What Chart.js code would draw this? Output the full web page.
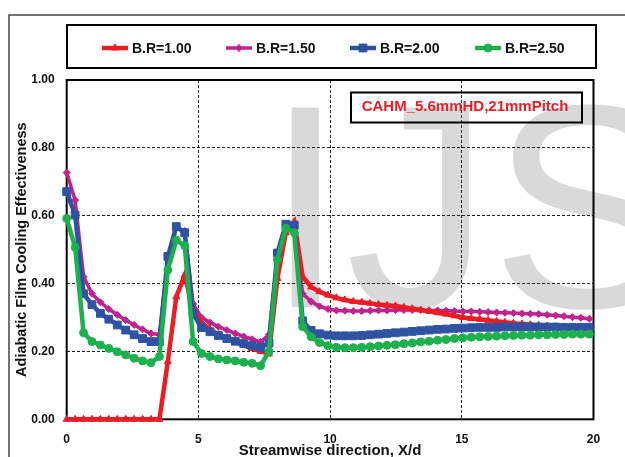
<!DOCTYPE html>
<html>
<head>
<meta charset="utf-8">
<script src="https://cdn.jsdelivr.net/npm/chart.js@4.4.1/dist/chart.umd.min.js"></script>
<style>
  html, body { margin: 0; padding: 0; background: #fff; }
  #wrap { width: 625px; height: 457px; position: relative; }
</style>
</head>
<body>
<div id="wrap"><canvas id="chart" width="625" height="457"></canvas></div>
<script>
// X/d positions of the measurement points
const xPos = [0, 0.32, 0.64, 0.96, 1.28, 1.6, 1.92, 2.24, 2.56, 2.88, 3.2, 3.52, 3.84, 4.16, 4.48, 4.8,
  5.12, 5.44, 5.76, 6.08, 6.4, 6.72, 7.04, 7.36, 7.68, 8.0, 8.32, 8.64, 8.96, 9.28, 9.6, 9.92,
  10.24, 10.56, 10.88, 11.2, 11.52, 11.84, 12.16, 12.48, 12.8, 13.12, 13.44, 13.76, 14.08, 14.4, 14.72,
  15.04, 15.36, 15.68, 16.0, 16.32, 16.64, 16.96, 17.28, 17.6, 17.92, 18.24, 18.56, 18.88, 19.2, 19.52, 19.84];

const seriesNames = ['B.R=1.00', 'B.R=1.50', 'B.R=2.00', 'B.R=2.50'];

const br100 = [0, 0, 0, 0, 0, 0, 0, 0, 0, 0, 0, 0,
  0.17, 0.361, 0.425, 0.32, 0.285, 0.265, 0.25, 0.238, 0.228, 0.218, 0.208, 0.2, 0.193,
  0.415, 0.55, 0.582, 0.42, 0.39, 0.376, 0.366, 0.358, 0.352, 0.347,
  0.345, 0.342, 0.338, 0.336, 0.334, 0.33, 0.326, 0.322, 0.318, 0.314,
  0.31, 0.305, 0.3, 0.297, 0.295, 0.292, 0.289, 0.286, 0.283, 0.281,
  0.279, 0.277, 0.275, 0.273, 0.272, 0.271, 0.27, 0.27];

const br150 = [0.727, 0.646, 0.42, 0.37, 0.345, 0.325, 0.308, 0.292, 0.278, 0.265, 0.253, 0.25,
  0.47, 0.565, 0.555, 0.34, 0.3, 0.285, 0.273, 0.263, 0.253, 0.244, 0.236, 0.228, 0.25,
  0.48, 0.575, 0.565, 0.37, 0.347, 0.333, 0.325, 0.321, 0.32, 0.319,
  0.319, 0.32, 0.321, 0.321, 0.322, 0.322, 0.322, 0.322, 0.321, 0.321,
  0.32, 0.319, 0.318, 0.318, 0.317, 0.316, 0.315, 0.314, 0.313, 0.312,
  0.311, 0.31, 0.308, 0.306, 0.304, 0.301, 0.299, 0.296];

const br200 = [0.671, 0.602, 0.37, 0.338, 0.312, 0.295, 0.278, 0.263, 0.249, 0.238, 0.229, 0.229,
  0.48, 0.568, 0.55, 0.31, 0.27, 0.258, 0.247, 0.238, 0.23, 0.223, 0.217, 0.212, 0.225,
  0.49, 0.575, 0.572, 0.29, 0.262, 0.252, 0.248, 0.246, 0.246, 0.246,
  0.247, 0.249, 0.251, 0.253, 0.255, 0.257, 0.259, 0.261, 0.263, 0.265,
  0.266, 0.268, 0.269, 0.27, 0.271, 0.271, 0.271, 0.272, 0.272, 0.272,
  0.272, 0.272, 0.272, 0.272, 0.271, 0.271, 0.271, 0.271];

const br250 = [0.592, 0.507, 0.255, 0.229, 0.219, 0.209, 0.199, 0.19, 0.18, 0.172, 0.167, 0.185,
  0.44, 0.528, 0.512, 0.229, 0.194, 0.185, 0.178, 0.175, 0.172, 0.168, 0.165, 0.158, 0.2,
  0.47, 0.563, 0.55, 0.273, 0.243, 0.226, 0.217, 0.212, 0.211, 0.211,
  0.212, 0.214, 0.216, 0.218, 0.22, 0.223, 0.225, 0.228, 0.23, 0.233,
  0.235, 0.238, 0.24, 0.242, 0.243, 0.244, 0.245, 0.246, 0.247, 0.248,
  0.248, 0.249, 0.249, 0.25, 0.25, 0.251, 0.251, 0.251];

const yTicks = [0, 0.2, 0.4, 0.6, 0.8, 1.0];
const xTicks = [0, 5, 10, 15, 20];

const FONT = "'Liberation Sans', Arial, sans-serif";

function pts(vals) {
  return vals.map(function (v, i) { return { x: xPos[i], y: v }; });
}

const styles = [
  { color: '#ED1C24', point: 'triangle', radius: 4, width: 4.5, order: 3 },
  { color: '#C0228E', point: 'rectRot', radius: 3.5, width: 3.5, order: 4 },
  { color: '#2F52A3', point: 'rect', radius: 5.5, width: 4.5, order: 2 },
  { color: '#1DB04E', point: 'circle', radius: 4, width: 4.5, order: 1 }
];
const allValues = [br100, br150, br200, br250];

const datasets = allValues.map(function (vals, i) {
  const s = styles[i];
  return {
    label: seriesNames[i],
    data: pts(vals),
    borderColor: s.color,
    backgroundColor: s.color,
    borderWidth: s.width,
    pointStyle: s.point,
    pointRadius: s.radius,
    pointBorderWidth: 1,
    pointBorderColor: s.color,
    pointBackgroundColor: s.color,
    tension: 0,
    clip: false,
    order: s.order
  };
});

// watermark, frame, plot border, legend box and note box
const decor = {
  id: 'decor',
  beforeDraw(chart) {
    const ctx = chart.ctx;
    ctx.save();
    ctx.fillStyle = '#d9d9d9';
    ctx.font = '290px ' + FONT;
    ctx.textBaseline = 'alphabetic';
    ctx.fillText('IJS', 265, 307);
    ctx.strokeStyle = '#444';
    ctx.lineWidth = 1.5;
    ctx.strokeRect(9, 15, 700, 500);
    ctx.restore();
  },
  beforeDatasetsDraw(chart) {
    const ctx = chart.ctx;
    const a = chart.chartArea;
    ctx.save();
    ctx.strokeStyle = '#000';
    ctx.lineWidth = 2;
    ctx.strokeRect(a.left, a.top, a.right - a.left, a.bottom - a.top);
    ctx.restore();
  },
  afterDraw(chart) {
    const ctx = chart.ctx;
    ctx.save();
    // legend
    ctx.fillStyle = '#fff';
    ctx.fillRect(67, 25, 529, 43);
    ctx.strokeStyle = '#000';
    ctx.lineWidth = 2;
    ctx.strokeRect(67, 25, 529, 43);
    const lx = [102, 226, 350, 475];
    const ly = 48;
    ctx.font = 'bold 14px ' + FONT;
    ctx.textBaseline = 'middle';
    styles.forEach(function (s, i) {
      ctx.strokeStyle = s.color;
      ctx.lineWidth = s.width;
      ctx.beginPath();
      ctx.moveTo(lx[i], ly);
      ctx.lineTo(lx[i] + 26, ly);
      ctx.stroke();
      ctx.fillStyle = s.color;
      ctx.lineWidth = 1;
      Chart.helpers.drawPoint(ctx, { pointStyle: s.point, radius: s.radius, rotation: 0, borderWidth: 1 }, lx[i] + 13, ly);
      ctx.fillStyle = '#111';
      ctx.fillText(seriesNames[i], lx[i] + 30, ly + 1);
    });
    // note box
    ctx.strokeStyle = '#000';
    ctx.lineWidth = 2;
    ctx.strokeRect(351, 92.5, 231, 30);
    ctx.fillStyle = '#ED1C24';
    ctx.font = 'bold 15px ' + FONT;
    ctx.textAlign = 'center';
    ctx.textBaseline = 'alphabetic';
    ctx.fillText('CAHM_5.6mmHD,21mmPitch', 465, 111);
    ctx.restore();
  }
};

new Chart(document.getElementById('chart'), {
  type: 'line',
  data: { datasets: datasets },
  options: {
    responsive: false,
    animation: false,
    events: [],
    layout: { padding: { top: 80, right: 31.5, bottom: -1, left: 0 } },
    plugins: {
      legend: { display: false },
      tooltip: { enabled: false },
      title: { display: false }
    },
    scales: {
      x: {
        type: 'linear',
        min: 0,
        max: 20,
        afterBuildTicks: function (scale) {
          scale.ticks = xTicks.map(function (v) { return { value: v }; });
        },
        afterFit: function (scale) { scale.height = 38.7; },
        grid: { color: '#222', lineWidth: 1, drawTicks: false },
        border: { display: false, dash: [3, 2] },
        ticks: {
          padding: 13,
          color: '#111',
          font: { family: FONT, size: 12, weight: 'bold' },
          maxRotation: 0
        },
        title: {
          display: true,
          text: 'Streamwise direction, X/d',
          color: '#111',
          font: { family: FONT, size: 15, weight: 'bold', lineHeight: 1 },
          padding: { top: 0, bottom: 0 }
        }
      },
      y: {
        min: 0,
        max: 1,
        afterBuildTicks: function (scale) {
          scale.ticks = yTicks.map(function (v) { return { value: v }; });
        },
        afterFit: function (scale) { scale.width = 66.7; },
        grid: { color: '#222', lineWidth: 1, drawTicks: false },
        border: { display: false, dash: [3, 2] },
        ticks: {
          padding: 12,
          color: '#111',
          font: { family: FONT, size: 12, weight: 'bold' },
          callback: function (v) { return v.toFixed(2); }
        },
        title: {
          display: true,
          text: 'Adiabatic Film Cooling Effectiveness',
          color: '#111',
          font: { family: FONT, size: 14.5, weight: 'bold', lineHeight: 1.2 },
          padding: { top: 13, bottom: 0 }
        }
      }
    }
  },
  plugins: [decor]
});
</script>
</body>
</html>
